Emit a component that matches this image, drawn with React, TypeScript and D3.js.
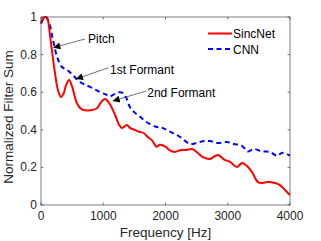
import React from "react";
import * as d3 from "d3";

const sincFreq = [0, 40, 80, 112, 145, 177, 225, 273, 321, 360, 400, 450, 500, 540, 578, 650, 739, 820, 900, 960, 1028, 1090, 1156, 1200, 1250, 1300, 1380, 1430, 1500, 1570, 1650, 1720, 1780, 1860, 1910, 2000, 2070, 2150, 2250, 2330, 2425, 2500, 2600, 2715, 2843, 2950, 3040, 3147, 3228, 3300, 3390, 3485, 3560, 3640, 3760, 3838, 3920, 4000];
const sincVal = [0.97, 0.995, 1.0, 0.98, 0.9, 0.82, 0.7, 0.61, 0.575, 0.59, 0.635, 0.665, 0.63, 0.58, 0.54, 0.51, 0.503, 0.505, 0.515, 0.545, 0.564, 0.545, 0.505, 0.47, 0.43, 0.41, 0.425, 0.41, 0.4, 0.39, 0.383, 0.36, 0.345, 0.31, 0.32, 0.31, 0.29, 0.282, 0.293, 0.293, 0.298, 0.282, 0.255, 0.245, 0.266, 0.24, 0.229, 0.202, 0.223, 0.21, 0.175, 0.122, 0.117, 0.122, 0.117, 0.106, 0.08, 0.053];

const cnnFreq = [0, 40, 80, 130, 193, 260, 337, 420, 514, 626, 787, 948, 1060, 1108, 1180, 1260, 1317, 1370, 1430, 1510, 1590, 1700, 1860, 1950, 2072, 2232, 2393, 2500, 2620, 2714, 2843, 2987, 3100, 3228, 3324, 3420, 3550, 3680, 3790, 3880, 4000];
const cnnVal = [0.965, 0.99, 1.0, 0.97, 0.877, 0.787, 0.734, 0.718, 0.69, 0.654, 0.628, 0.601, 0.585, 0.578, 0.59, 0.6, 0.595, 0.57, 0.52, 0.49, 0.47, 0.44, 0.415, 0.41, 0.39, 0.362, 0.325, 0.33, 0.34, 0.34, 0.33, 0.335, 0.324, 0.315, 0.285, 0.298, 0.285, 0.282, 0.262, 0.278, 0.262];

const xTicks = [0, 1000, 2000, 3000, 4000];
const yTicks = [0, 0.2, 0.4, 0.6, 0.8, 1];

const annoLabels = ["Pitch", "1st Formant", "2nd Formant"];
const annoTipF = [198, 562, 1152];
const annoTipV = [0.837, 0.67, 0.553];
const annoStartF = [707, 1081, 1687];
const annoStartV = [0.883, 0.73, 0.606];
const annoTextF = [755, 1108, 1707];
const annoTextV = [0.862, 0.695, 0.573];

const legendNames = ["SincNet", "CNN"];

export default function App() {
  const W = 321, H = 241;
  const left = 41, right = 290, top = 17, bottom = 205;
  const x = d3.scaleLinear().domain([0, 4000]).range([left, right]);
  const y = d3.scaleLinear().domain([0, 1]).range([bottom, top]);
  const line = d3.line<[number, number]>().x(d => x(d[0])).y(d => y(d[1])).curve(d3.curveCatmullRom.alpha(0.5));
  const sinc = line(sincFreq.map((f, i) => [f, sincVal[i]])) || "";
  const cnn = line(cnnFreq.map((f, i) => [f, cnnVal[i]])) || "";
  const axisColor = "#262626";
  const font = "'Liberation Sans', Arial, sans-serif";
  return (
    <svg width={W} height={H} style={{ position: "absolute", left: 0, top: 0, background: "#fff" }} fontFamily={font}>
      <defs>
        <marker id="ah" viewBox="0 0 10 10" refX="10" refY="5" markerWidth="9" markerHeight="7" orient="auto" markerUnits="userSpaceOnUse">
          <path d="M0,0 L10,5 L0,10 z" fill="#000" />
        </marker>
      </defs>
      <rect x={left} y={top} width={right - left} height={bottom - top} fill="#fff" />
      <path d={cnn} fill="none" stroke="#0000ff" strokeWidth={2} strokeDasharray="5,3.5" />
      <path d={sinc} fill="none" stroke="#ff0000" strokeWidth={2} />
      <rect x={left} y={top} width={right - left} height={bottom - top} fill="none" stroke={axisColor} strokeWidth={0.6} />
      {xTicks.map(t => (
        <g key={"x" + t}>
          <line x1={x(t)} x2={x(t)} y1={bottom} y2={bottom - 2.5} stroke={axisColor} strokeWidth={0.6} />
          <line x1={x(t)} x2={x(t)} y1={top} y2={top + 2.5} stroke={axisColor} strokeWidth={0.6} />
          <text x={x(t)} y={bottom + 15} textAnchor="middle" fontSize={12} fill={axisColor}>{t}</text>
        </g>
      ))}
      {yTicks.map(t => (
        <g key={"y" + t}>
          <line x1={left} x2={left + 2.5} y1={y(t)} y2={y(t)} stroke={axisColor} strokeWidth={0.6} />
          <line x1={right} x2={right - 2.5} y1={y(t)} y2={y(t)} stroke={axisColor} strokeWidth={0.6} />
          <text x={left - 4} y={y(t) + 4} textAnchor="end" fontSize={12} fill={axisColor}>{t}</text>
        </g>
      ))}
      <text x={(left + right) / 2} y={237} textAnchor="middle" fontSize={13.5} fill={axisColor}>Frequency [Hz]</text>
      <text transform={`translate(12.5,117) rotate(-90)`} textAnchor="middle" fontSize={13.5} fill={axisColor}>Normalized Filter Sum</text>
      {annoLabels.map((l, i) => (
        <g key={l}>
          <line x1={x(annoStartF[i])} y1={y(annoStartV[i])} x2={x(annoTipF[i])} y2={y(annoTipV[i])} stroke="#333" strokeWidth={0.7} markerEnd="url(#ah)" />
          <text x={x(annoTextF[i])} y={y(annoTextV[i])} fontSize={12} fill="#000">{l}</text>
        </g>
      ))}
      {legendNames.map((n, i) => (
        <g key={n}>
          <line x1={208} x2={232} y1={33.5 + i * 15.5} y2={33.5 + i * 15.5} stroke={i === 0 ? "#ff0000" : "#0000ff"} strokeWidth={2} strokeDasharray={i === 0 ? undefined : "5,3.5"} />
          <text x={233} y={38 + i * 15.5} fontSize={12} fill="#000">{n}</text>
        </g>
      ))}
    </svg>
  );
}
